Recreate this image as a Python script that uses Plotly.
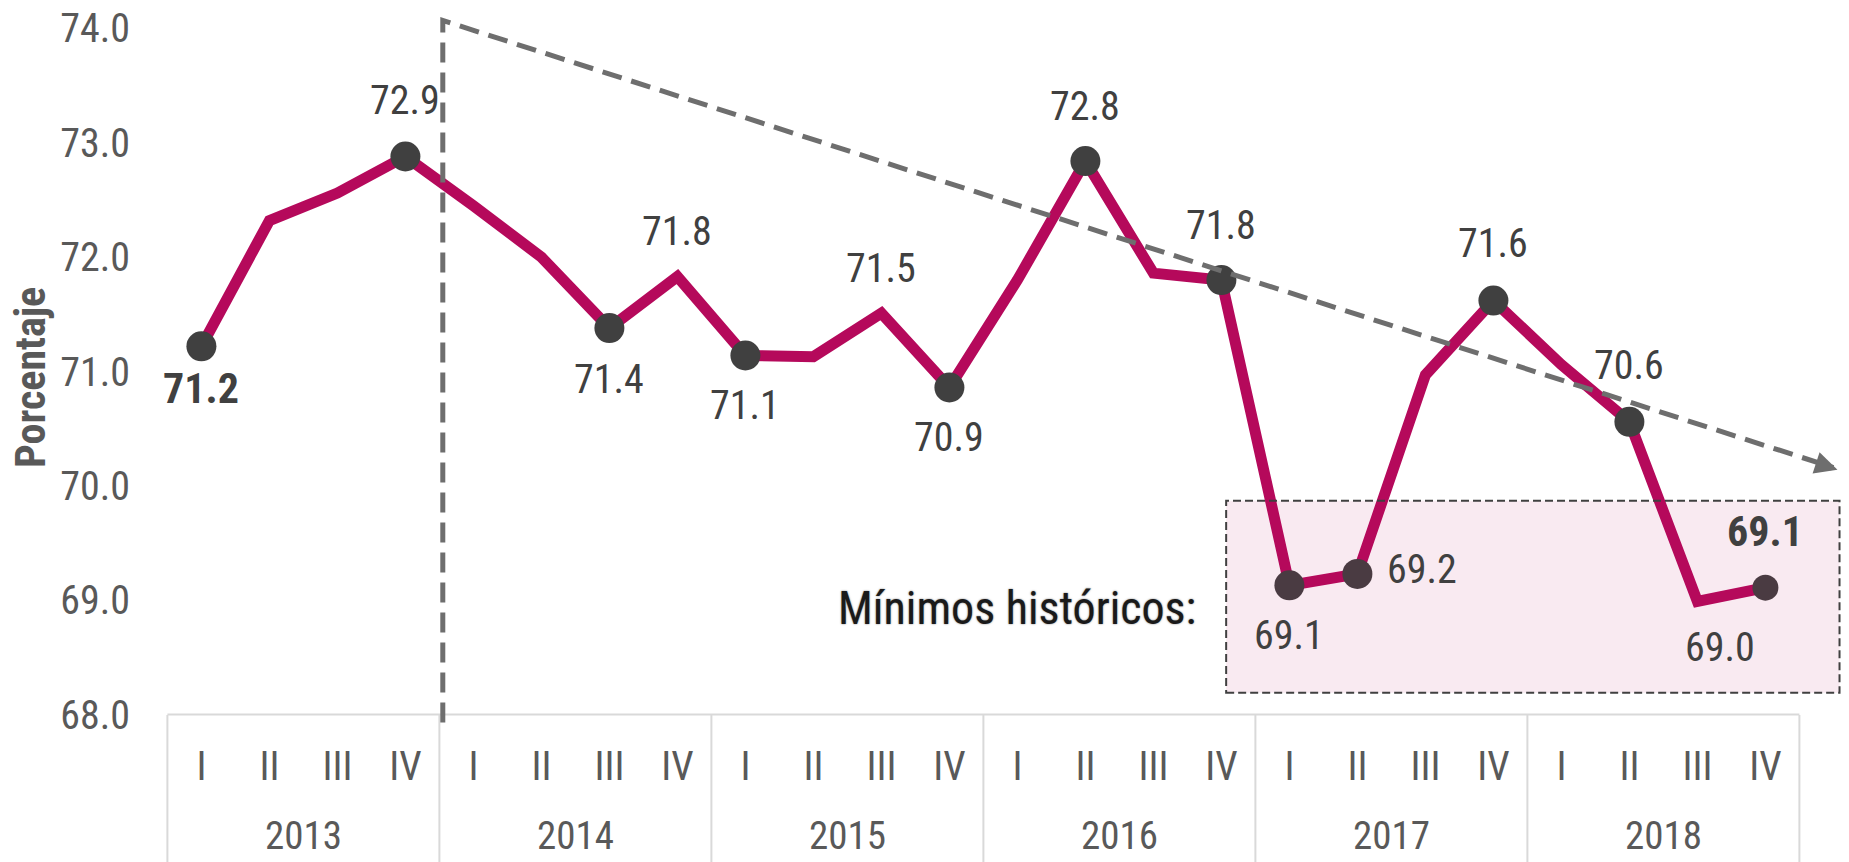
import plotly.graph_objects as go

# ---------------- data ----------------
years = ["2013", "2014", "2015", "2016", "2017", "2018"]
quarters = ["I", "II", "III", "IV"]
values = [71.22, 72.32, 72.56, 72.88,
          72.45, 72.00, 71.38, 71.83,
          71.14, 71.13, 71.51, 70.86,
          71.80, 72.84, 71.86, 71.80,
          69.13, 69.23, 70.97, 71.62,
          71.06, 70.56, 68.99, 69.11]
marker_idx = [0, 3, 6, 8, 11, 13, 15, 16, 17, 19, 21, 23]
label_idx = [0, 3, 6, 7, 8, 10, 11, 13, 15, 16, 17, 19, 21, 22, 23]
bold_idx = [0, 23]
yticks = [68, 69, 70, 71, 72, 73, 74]
y_title = "Porcentaje"
note_text = "Mínimos históricos:"

# ---------------- styles ----------------
FONT = "Liberation Sans Narrow, Arial Narrow, Roboto Condensed, Liberation Sans, sans-serif"
LINE_C = "#B5095B"
MARK_C = "#404040"
TXT_C = "#404040"
AX_C = "#595959"
GRID_C = "#D9D9D9"
TREND_C = "#6E6E6E"

# label offsets (xshift, yshift) in px, one per labelled point
label_shift = {0: (0, -42), 3: (0, 56), 6: (0, -51), 7: (0, 45), 8: (0, -50),
               10: (0, 45), 11: (0, -50), 13: (0, 55), 15: (0, 55), 16: (0, -50),
               17: (65, 4), 19: (0, 57), 21: (0, 56), 22: (23, -46), 23: (0, 56)}

n = len(values)
xs = list(range(n))
cats = [q for _ in years for q in quarters]

W, H = 1849, 862
ML, MR, MT, MB = 164, 2, 17, 136
XR = [-0.55, 24.2]
YR = [67.9, 74.1]
plot_h = H - MT - MB
plot_w = W - ML - MR


def py_paper(pix):
    return (H - MB - pix) / plot_h


def px_paper(pix):
    return (pix - ML) / plot_w


fig = go.Figure()
fig.add_trace(go.Scatter(x=xs, y=values, mode="lines",
                         line=dict(color=LINE_C, width=11), hoverinfo="skip",
                         showlegend=False))
fig.add_trace(go.Scatter(x=[xs[i] for i in marker_idx],
                         y=[values[i] for i in marker_idx], mode="markers",
                         marker=dict(color=MARK_C, opacity=1,
                                     size=[26 if i == n - 1 else 30 for i in marker_idx],
                                     line=dict(width=0)),
                         showlegend=False))

annotations = []
for i in label_idx:
    xsft, ysft = label_shift[i]
    bold = i in bold_idx
    annotations.append(dict(x=xs[i], y=values[i],
                            text=f"<b>{values[i]:.1f}</b>" if bold else f"{values[i]:.1f}",
                            showarrow=False, xshift=xsft, yshift=ysft,
                            font=dict(family=FONT, size=42 if bold else 40, color=TXT_C)))

# year labels
for k, yr in enumerate(years):
    annotations.append(dict(x=4 * k + 1.5, y=py_paper(861), xref="x", yref="paper",
                            text=yr, showarrow=False, yanchor="bottom", xanchor="center",
                            font=dict(family=FONT, size=39, color=AX_C)))

# y title
annotations.append(dict(x=px_paper(30), y=py_paper(378), xref="paper", yref="paper",
                        xanchor="center", yanchor="middle",
                        text=f"<b>{y_title}</b>", textangle=-90, showarrow=False,
                        font=dict(family=FONT, size=42, color=AX_C)))

# note
annotations.append(dict(x=12.0, y=68.93, text=note_text, showarrow=False,
                        font=dict(family=FONT, size=46, color="#1A1A1A",
                                  shadow="0px 0px 2px #777")))

# arrow head of trend
annotations.append(dict(x=24.06, y=70.14, ax=-20, ay=-6.5, showarrow=True,
                        arrowhead=2, arrowsize=0.9, arrowwidth=5, arrowcolor=TREND_C,
                        text=""))

shapes = []
# category frame
shapes.append(dict(type="line", xref="x", yref="y", x0=-0.5, x1=n - 0.5, y0=68, y1=68,
                   line=dict(color=GRID_C, width=2), layer="below"))
for k in range(len(years) + 1):
    shapes.append(dict(type="line", xref="x", yref="paper", x0=4 * k - 0.5, x1=4 * k - 0.5,
                       y0=py_paper(715), y1=py_paper(H + 5),
                       line=dict(color=GRID_C, width=2), layer="below"))
# highlight box
shapes.append(dict(type="rect", xref="x", yref="y", x0=15.07, x1=24.09, y0=68.19, y1=69.87,
                   fillcolor="rgba(181,9,91,0.085)",
                   line=dict(color="#404040", width=2, dash="8px,4px"), layer="above"))
# trend + separator
shapes.append(dict(type="path", xref="x", yref="y",
                   path="M 3.55,67.93 L 3.55,74.07 L 24.0,70.16",
                   line=dict(color=TREND_C, width=5, dash="20px,10px"), layer="above"))

fig.update_layout(
    width=W, height=H,
    margin=dict(l=ML, r=MR, t=MT, b=MB),
    plot_bgcolor="white", paper_bgcolor="white",
    showlegend=False,
    xaxis=dict(range=XR, tickmode="array", tickvals=xs, ticktext=cats,
               showgrid=False, zeroline=False, showline=False, ticks="",
               ticklabelstandoff=13,
               tickfont=dict(family=FONT, size=40, color=AX_C), fixedrange=True),
    yaxis=dict(range=YR, tickmode="array", tickvals=yticks,
               ticktext=[f"{v:.1f}" for v in yticks],
               showgrid=False, zeroline=False, showline=False, ticks="",
               ticklabelstandoff=33,
               tickfont=dict(family=FONT, size=40, color=AX_C), fixedrange=True),
    annotations=annotations,
    shapes=shapes,
)

fig.write_html("out.html", config={"displayModeBar": False},
               post_script="document.body.style.margin='0';document.body.style.overflow='hidden';")
